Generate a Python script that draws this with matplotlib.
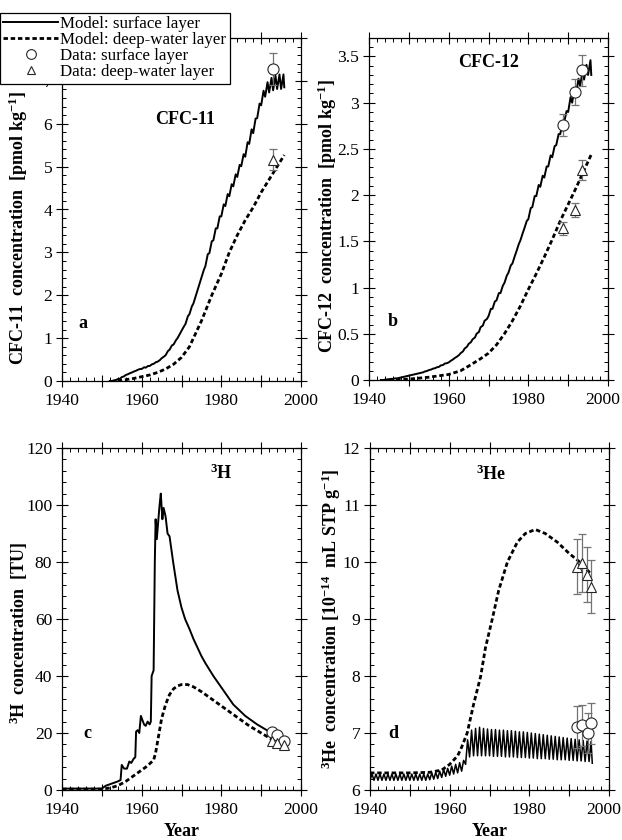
import matplotlib
matplotlib.use('Agg')
import matplotlib.pyplot as plt
from matplotlib.ticker import MultipleLocator, FuncFormatter
from matplotlib.lines import Line2D
from matplotlib.transforms import ScaledTranslation

plt.rcParams['font.family'] = ['Liberation Serif', 'DejaVu Serif']
plt.rcParams['mathtext.default'] = 'regular'

# ---------------- data ----------------
# Panel a: CFC-11 (pmol/kg)
cfc11_years = list(range(1952, 1996))
cfc11_surf_lo = [0.00, 0.015, 0.045, 0.09, 0.14, 0.18, 0.22, 0.26,
                 0.28, 0.31, 0.35, 0.40, 0.45, 0.53, 0.60, 0.73, 0.85, 1.00, 1.17,
                 1.33, 1.56, 1.81, 2.11, 2.41, 2.68, 2.98, 3.28, 3.56, 3.84,
                 4.08, 4.31, 4.54, 4.76, 5.01, 5.23, 5.53, 5.78, 6.13, 6.43,
                 6.63, 6.73, 6.78, 6.81, 6.81]
cfc11_surf_hi = [0.00, 0.025, 0.055, 0.11, 0.16, 0.20, 0.24, 0.28,
                 0.32, 0.35, 0.39, 0.44, 0.49, 0.57, 0.70, 0.83, 0.95, 1.10, 1.27,
                 1.51, 1.74, 1.99, 2.29, 2.59, 2.96, 3.26, 3.56, 3.84, 4.12,
                 4.36, 4.59, 4.82, 5.04, 5.29, 5.57, 5.87, 6.12, 6.47, 6.77,
                 6.97, 7.07, 7.12, 7.15, 7.15]
cfc11_deep_x = [1954, 1956, 1958, 1960, 1962, 1964, 1966, 1968, 1970, 1972, 1973,
                1975, 1977.6, 1980, 1982, 1984, 1986, 1988, 1990, 1992, 1994, 1995.8]
cfc11_deep_y = [0.0, 0.03, 0.06, 0.1, 0.14, 0.2, 0.28, 0.39, 0.55, 0.8, 1.0,
                1.4, 2.0, 2.5, 3.0, 3.4, 3.75, 4.05, 4.4, 4.7, 5.0, 5.27]
cfc11_data_x = [1993.0]
cfc11_surf_data = [7.27]
cfc11_surf_err = [0.37]
cfc11_deep_data = [5.16]
cfc11_deep_err = [0.25]

# Panel b: CFC-12 (pmol/kg)
cfc12_years = list(range(1943, 1996))
cfc12_surf_lo = [0.000, 0.003, 0.008, 0.012, 0.017, 0.027, 0.037, 0.047, 0.057,
                 0.067, 0.077, 0.092, 0.107, 0.122, 0.137, 0.157, 0.177,
                 0.19, 0.22, 0.25, 0.29, 0.34, 0.39, 0.44, 0.50, 0.57, 0.64,
                 0.69, 0.77, 0.86, 0.94, 1.05, 1.16, 1.26, 1.39, 1.51, 1.64,
                 1.74, 1.87, 1.99, 2.09, 2.19, 2.31, 2.41, 2.54, 2.66, 2.79,
                 2.90, 3.00, 3.10, 3.18, 3.25, 3.30]
cfc12_surf_hi = [0.000, 0.007, 0.012, 0.018, 0.023, 0.033, 0.043, 0.053, 0.063,
                 0.073, 0.083, 0.098, 0.113, 0.128, 0.143, 0.163, 0.183,
                 0.21, 0.24, 0.27, 0.31, 0.36, 0.41, 0.46, 0.52, 0.59, 0.66,
                 0.77, 0.85, 0.94, 1.02, 1.13, 1.24, 1.34, 1.47, 1.59, 1.72,
                 1.86, 1.99, 2.11, 2.21, 2.31, 2.43, 2.53, 2.66, 2.78, 2.91,
                 3.06, 3.16, 3.26, 3.34, 3.41, 3.46]
cfc12_deep_x = [1945, 1950, 1955, 1960, 1963, 1965, 1968, 1970, 1972, 1974, 1976,
                1978, 1980, 1982, 1984, 1986, 1988, 1990, 1992, 1994, 1995.8]
cfc12_deep_y = [0.0, 0.01, 0.03, 0.06, 0.1, 0.15, 0.23, 0.29, 0.38, 0.5, 0.64,
                0.8, 0.98, 1.15, 1.33, 1.52, 1.72, 1.9, 2.08, 2.27, 2.44]
cfc12_data_x = [1988.7, 1991.6, 1993.5]
cfc12_surf_data = [2.76, 3.12, 3.35]
cfc12_surf_err = [0.12, 0.14, 0.17]
cfc12_deep_data = [1.64, 1.84, 2.27]
cfc12_deep_err = [0.07, 0.08, 0.11]

# Panel c: tritium (TU)
h3_surf_x = [1940, 1950, 1951, 1952, 1953, 1954, 1954.7, 1955, 1955.6, 1956.3,
             1956.9, 1957.4, 1958.0, 1958.4, 1958.6, 1959.0, 1959.4, 1959.8,
             1960.2, 1960.6, 1961.0, 1961.5, 1962.0, 1962.3, 1962.5, 1963.0,
             1963.3, 1963.5, 1963.8, 1964.2, 1964.5, 1964.8, 1965.2, 1965.5,
             1966.0, 1966.5, 1967.0, 1967.9, 1969, 1970, 1970.9, 1972, 1973,
             1974, 1975, 1976, 1978, 1980, 1983, 1986, 1989, 1992.6]
h3_surf_y = [0.5, 0.5, 1.5, 2.0, 2.5, 3.0, 3.5, 8.8, 7.5, 7.5,
             10.0, 9.5, 11.0, 11.5, 20.5, 21.0, 20.0, 26.0,
             24.5, 23.0, 22.5, 24.0, 23.0, 24.0, 40.0, 42.0,
             80.0, 95.0, 88.0, 95.0, 100.0, 104.0, 95.0, 99.0,
             96.0, 90.0, 89.0, 80.0, 70.0, 64.0, 60.0, 56.5, 53.0,
             50.0, 47.0, 44.5, 40.0, 36.0, 30.0, 26.0, 23.0, 20.0]
h3_deep_x = [1940, 1950, 1952, 1954, 1956, 1958, 1960, 1961, 1962, 1963, 1963.5,
             1964, 1964.5, 1965, 1966, 1967, 1968, 1969, 1970, 1971.5, 1973,
             1975, 1978, 1981, 1984, 1987, 1990, 1993, 1995.8]
h3_deep_y = [0.3, 0.3, 0.7, 1.5, 3.0, 5.0, 7.0, 8.0, 9.2, 10.5, 13.0,
             17.0, 21.0, 25.0, 30.0, 33.5, 35.5, 36.5, 37.0, 37.0, 36.2,
             34.5, 31.5, 28.5, 25.5, 22.5, 20.0, 17.5, 15.5]
h3_data_x = [1992.6, 1993.9, 1995.7]
h3_surf_data = [20.5, 19.3, 17.3]
h3_deep_data = [17.3, 16.4, 15.8]

# Panel d: helium-3 (1e-14 mL STP/g)
he3_years = list(range(1940, 1996))
he3_surf_lo = [6.17] * 15 + [6.18, 6.19, 6.20, 6.22, 6.24, 6.26, 6.28, 6.30, 6.33,
               6.45, 6.58, 6.60, 6.60, 6.60, 6.60, 6.60, 6.59, 6.59, 6.59,
               6.58, 6.58, 6.58, 6.57, 6.57, 6.57, 6.56, 6.56, 6.55, 6.55,
               6.55, 6.54, 6.54, 6.53, 6.53, 6.53, 6.52, 6.52, 6.51, 6.51,
               6.50, 6.50]
he3_surf_hi = [6.28] * 15 + [6.30, 6.31, 6.33, 6.36, 6.38, 6.42, 6.45, 6.48, 6.52,
               6.88, 7.05, 7.08, 7.10, 7.08, 7.07, 7.06, 7.06, 7.05, 7.05,
               7.04, 7.04, 7.03, 7.02, 7.02, 7.01, 7.00, 6.99, 6.98, 6.97,
               6.96, 6.95, 6.94, 6.93, 6.92, 6.91, 6.90, 6.89, 6.88, 6.87,
               6.86, 6.85]
he3_deep_x = [1940, 1950, 1955, 1958, 1960, 1962, 1963, 1964.4, 1966, 1967.8,
              1969, 1970.7, 1972.3, 1974.5, 1977, 1979, 1981.5, 1984, 1987,
              1990, 1993, 1995.6]
he3_deep_y = [6.3, 6.3, 6.31, 6.35, 6.45, 6.6, 6.75, 7.0, 7.5, 8.0,
              8.5, 9.0, 9.5, 10.0, 10.35, 10.5, 10.57, 10.5, 10.35,
              10.15, 9.98, 9.78]
he3_surf_data_x = [1992.0, 1993.3, 1994.7, 1995.4]
he3_surf_data = [7.10, 7.14, 7.00, 7.17]
he3_surf_err = [0.37, 0.36, 0.35, 0.36]
he3_deep_data_x = [1992.0, 1993.3, 1994.6, 1995.4]
he3_deep_data = [9.92, 9.98, 9.78, 9.57]
he3_deep_err = [0.49, 0.51, 0.49, 0.47]


def sawtooth(years, lo, hi, phase):
    xs, ys = [], []
    for yr, l, h in zip(years, lo, hi):
        xs += [yr, yr + phase]
        ys += [l, h]
    return xs, ys


# ---------------- figure ----------------
fig = plt.figure(figsize=(6.22, 8.4), dpi=100)
W, H = 622, 840


def add_ax(l, t, r, b):
    return fig.add_axes([l / W, 1 - b / H, (r - l) / W, (b - t) / H])


ax_a = add_ax(62, 38, 301, 381)
ax_b = add_ax(369, 38, 608, 380)
ax_c = add_ax(62, 448, 301, 790)
ax_d = add_ax(370, 448, 609, 790)

DOT = (0, (1.6, 1.0))
LW_S = 1.4
LW_D = 2.0
ERR_C = '0.45'
MK = dict(markerfacecolor='white', markeredgecolor='0.15', markeredgewidth=0.8,
          linestyle='none')
TICK_FS = 12.6
LAB_FS = 13


def style(ax, ylim, ymaj, ymin, fmt):
    ax.set_xlim(1940, 2000)
    ax.set_ylim(*ylim)
    ax.xaxis.set_major_locator(MultipleLocator(10))
    ax.xaxis.set_minor_locator(MultipleLocator(2))
    ax.xaxis.set_major_formatter(FuncFormatter(
        lambda v, p: f'{int(round(v))}' if int(round(v)) % 20 == 0 else ''))
    ax.yaxis.set_major_locator(MultipleLocator(ymaj))
    ax.yaxis.set_minor_locator(MultipleLocator(ymin))
    ax.yaxis.set_major_formatter(FuncFormatter(fmt))
    ax.tick_params(which='major', direction='inout', length=8, width=0.8,
                   top=True, right=True, labelsize=TICK_FS)
    ax.tick_params(axis='x', which='major', pad=5)
    ax.tick_params(axis='y', which='major', pad=3)
    ax.tick_params(which='minor', direction='in', length=3, width=0.7,
                   top=True, right=True)
    for s in ax.spines.values():
        s.set_linewidth(0.9)


fmt_g = lambda v, p: f'{v:g}'


def data_points(ax, xs, ys, err, marker, ms):
    if err is not None:
        ax.errorbar(xs, ys, yerr=err, fmt='none', ecolor=ERR_C,
                    elinewidth=0.9, capsize=3, capthick=0.9, zorder=4)
    ax.plot(xs, ys, marker=marker, markersize=ms, zorder=5, **MK)


# ---- a ----
x, y = sawtooth(cfc11_years, cfc11_surf_lo, cfc11_surf_hi, 0.6)
ax_a.plot(x + [1995.8], y + [6.85], color='black', lw=LW_S)
ax_a.plot(cfc11_deep_x, cfc11_deep_y, color='black', lw=LW_D, linestyle=DOT)
data_points(ax_a, cfc11_data_x, cfc11_surf_data, cfc11_surf_err, 'o', 8)
data_points(ax_a, cfc11_data_x, cfc11_deep_data, cfc11_deep_err, '^', 7)
style(ax_a, (0, 8), 1, 0.2, fmt_g)
ax_a.set_ylabel('CFC-11  concentration  [pmol kg$^{-1}$]', fontsize=LAB_FS,
                fontweight='bold')
ax_a.yaxis.set_label_coords(-0.134, 0.446)
ax_a.text(1971, 6.1, 'CFC-11', fontsize=LAB_FS, fontweight='bold', ha='center',
          va='center')
ax_a.text(1945.3, 1.35, 'a', fontsize=LAB_FS, fontweight='bold', ha='center',
          va='center')

# ---- b ----
x, y = sawtooth(cfc12_years, cfc12_surf_lo, cfc12_surf_hi, 0.6)
ax_b.plot(x + [1995.8], y + [3.3], color='black', lw=LW_S)
ax_b.plot(cfc12_deep_x, cfc12_deep_y, color='black', lw=LW_D, linestyle=DOT)
data_points(ax_b, cfc12_data_x, cfc12_surf_data, cfc12_surf_err, 'o', 8)
data_points(ax_b, cfc12_data_x, cfc12_deep_data, cfc12_deep_err, '^', 7)
style(ax_b, (0, 3.7), 0.5, 0.1, fmt_g)
ax_b.set_ylabel('CFC-12  concentration  [pmol kg$^{-1}$]', fontsize=LAB_FS,
                fontweight='bold')
ax_b.yaxis.set_label_coords(-0.126, 0.48)
ax_b.text(1970, 3.44, 'CFC-12', fontsize=LAB_FS, fontweight='bold', ha='center',
          va='center')
ax_b.text(1946, 0.63, 'b', fontsize=LAB_FS, fontweight='bold', ha='center',
          va='center')

# ---- c ----
ax_c.plot(h3_surf_x, h3_surf_y, color='black', lw=LW_S)
ax_c.plot(h3_deep_x, h3_deep_y, color='black', lw=LW_D, linestyle=DOT)
data_points(ax_c, h3_data_x, h3_surf_data, None, 'o', 8)
data_points(ax_c, h3_data_x, h3_deep_data, None, '^', 7)
style(ax_c, (0, 120), 20, 4, lambda v, p: f'{int(round(v))}')
ax_c.set_ylabel('$^{3}$H  concentration  [TU]', fontsize=LAB_FS,
                fontweight='bold')
ax_c.yaxis.set_label_coords(-0.134, 0.46)
ax_c.set_xlabel('Year', fontsize=LAB_FS, fontweight='bold', labelpad=3)
ax_c.text(1980, 111, '$^{3}$H', fontsize=LAB_FS, fontweight='bold',
          ha='center', va='center')
ax_c.text(1946.3, 20, 'c', fontsize=LAB_FS, fontweight='bold', ha='center',
          va='center')

# ---- d ----
x, y = sawtooth(he3_years, he3_surf_lo, he3_surf_hi, 0.5)
ax_d.plot(x + [1995.8], y + [6.47], color='black', lw=1.1)
ax_d.plot(he3_deep_x, he3_deep_y, color='black', lw=LW_D, linestyle=DOT)
data_points(ax_d, he3_surf_data_x, he3_surf_data, he3_surf_err, 'o', 8)
data_points(ax_d, he3_deep_data_x, he3_deep_data, he3_deep_err, '^', 7)
style(ax_d, (6, 12), 1, 0.2, lambda v, p: f'{int(round(v))}')
ax_d.set_ylabel('$^{3}$He  concentration [10$^{-14}$  mL STP g$^{-1}$]',
                fontsize=LAB_FS, fontweight='bold')
ax_d.yaxis.set_label_coords(-0.113, 0.5)
ax_d.set_xlabel('Year', fontsize=LAB_FS, fontweight='bold', labelpad=3)
ax_d.text(1970.4, 11.53, '$^{3}$He', fontsize=LAB_FS, fontweight='bold',
          ha='center', va='center')
ax_d.text(1945.8, 7.0, 'd', fontsize=LAB_FS, fontweight='bold', ha='center',
          va='center')

# keep the right-most year label of the right-hand panels inside the figure
for ax in (ax_b, ax_d):
    ticks = ax.xaxis.get_major_ticks()
    locs = ax.xaxis.get_majorticklocs()
    for tk, loc in zip(ticks, locs):
        if abs(loc - 2000) < 1e-6:
            tk.label1.set_transform(tk.label1.get_transform() +
                                    ScaledTranslation(-4 / 72, 0,
                                                      fig.dpi_scale_trans))

# ---- legend ----
handles = [
    Line2D([], [], color='black', lw=LW_S),
    Line2D([], [], color='black', lw=LW_D, linestyle=DOT),
    Line2D([], [], marker='o', markersize=7, **MK),
    Line2D([], [], marker='^', markersize=6, **MK),
]
labels = ['Model: surface layer', 'Model: deep-water layer',
          'Data: surface layer', 'Data: deep-water layer']
leg = ax_a.legend(handles, labels, loc='upper left',
                  bbox_to_anchor=(0.0, 1 - 13 / H),
                  bbox_transform=fig.transFigure, fontsize=12.2,
                  frameon=True, fancybox=False, framealpha=1, edgecolor='black',
                  borderpad=0.2, labelspacing=0.0, handlelength=3.2,
                  handletextpad=0.15, borderaxespad=0)
leg.get_frame().set_linewidth(0.9)
leg.set_zorder(10)

fig.savefig('out.png', dpi=100)
